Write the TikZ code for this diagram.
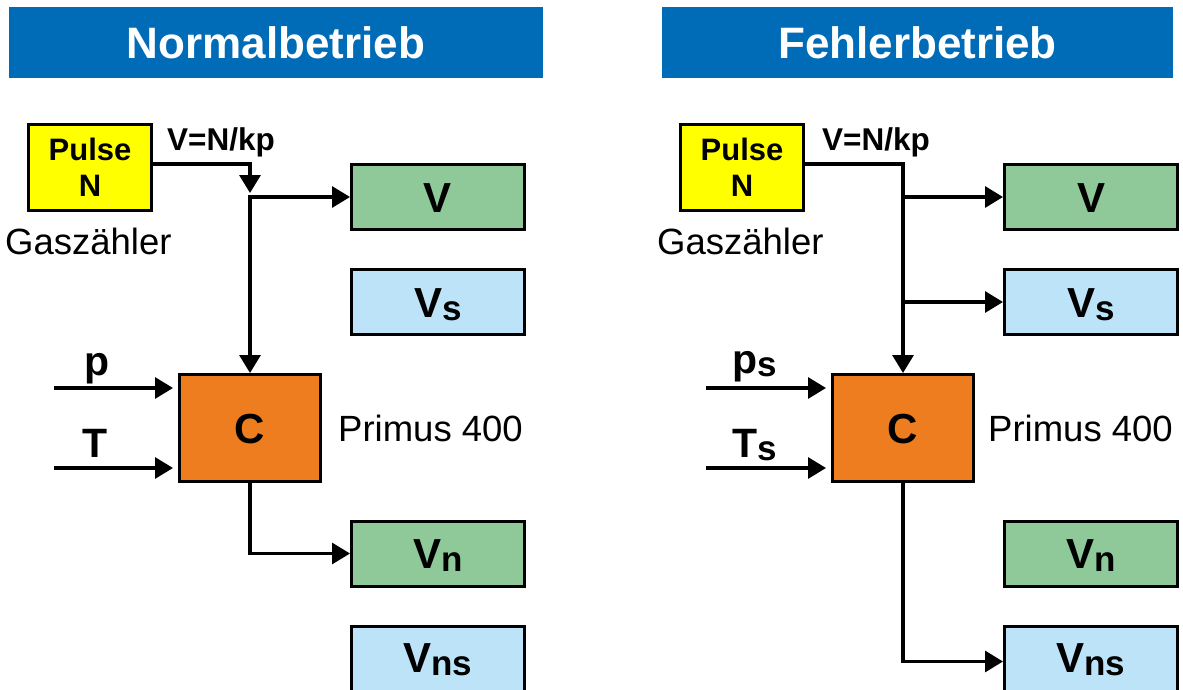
\documentclass[tikz,border=0pt]{standalone}
\usepackage{fontspec}
\setmainfont{Liberation Sans}
\usetikzlibrary{calc,positioning,arrows.meta}
\definecolor{hdblue}{RGB}{0,107,182}
\definecolor{pulseyel}{RGB}{255,255,0}
\definecolor{boxgreen}{RGB}{143,201,153}
\definecolor{boxblue}{RGB}{189,227,248}
\definecolor{boxorange}{RGB}{237,125,30}
\tikzset{
  headbar/.style={fill=hdblue,text=white,inner sep=0pt,minimum height=71pt,font=\fontsize{44}{52}\selectfont\bfseries},
  blk/.style={draw=black,line width=3pt,inner sep=0pt,text height=30pt,text depth=0pt,font=\fontsize{42}{50}\selectfont\bfseries},
  valbox/.style={blk,minimum width=173pt,minimum height=65pt},
  pulsebox/.style={draw=black,line width=3pt,fill=pulseyel,inner sep=0pt,minimum width=123pt,minimum height=86pt,align=center,font=\fontsize{31}{36}\selectfont\bfseries},
  calcbox/.style={blk,fill=boxorange,minimum width=141pt,minimum height=107pt},
  sig/.style={line width=3.2pt,-{Triangle[length=18pt,width=21pt]}},
  sigboth/.style={line width=3.2pt,{Triangle[length=18pt,width=21pt]}-{Triangle[length=18pt,width=21pt]}},
  inlab/.style={anchor=base west,inner sep=0pt,font=\fontsize{41}{48}\selectfont\bfseries},
  kplab/.style={anchor=base west,inner sep=0pt,font=\fontsize{31.5}{36}\selectfont\bfseries},
  devlab/.style={anchor=base west,inner sep=0pt,font=\fontsize{36.5}{42}\selectfont},
}
\newcommand{\vsub}[1]{\raisebox{-3pt}{\fontsize{35}{40}\selectfont#1}}

\begin{document}
\begin{tikzpicture}[x=1pt,y=-1pt]
  \useasboundingbox (0,0) rectangle (1183,690);
  \clip (0,0) rectangle (1183,690);
  % Normalbetrieb
  \node[headbar,minimum width=534pt] (titleL) at (276,42.5) {Normalbetrieb};
  \node[pulsebox] (pulseL) at (90,167.5) {Pulse\\N};
  \node[devlab] (gasL) at (5,254) {Gaszähler};
  \node[kplab] (kpL) at (167,150) {V=N/kp};
  \node[valbox,fill=boxgreen] (vL) at (438,197) {V};
  \node[valbox,fill=boxblue] (vsL) at (438,302) {V\vsub{s}};
  \node[calcbox] (cL) at (250,428) {C};
  \node[devlab] (primL) at (338,441) {Primus 400};
  \node[valbox,fill=boxgreen] (vnL) at (438,553.5) {V\vsub{n}};
  \node[valbox,fill=boxblue,minimum height=71pt,text depth=9pt] (vnsL) at (438,661.5) {V\vsub{ns}};
  \node[inlab] (pL) at (84,375) {p};
  \node[inlab] (tL) at (82,457) {T};
  \coordinate (inpL) at (54,388);
  \coordinate (intL) at (54,468);
  \coordinate (jL) at (vL.west -| cL.north);
  \draw[sig] ([yshift=3.5pt]pulseL.east) -| ([yshift=4pt]jL);
  \draw[sigboth] (vL.west) -| (cL.north);
  \draw[sig] (cL.south) |- (vnL.west);
  \draw[sig,shorten >=5pt] (inpL) -- (inpL -| cL.west);
  \draw[sig,shorten >=5pt] (intL) -- (intL -| cL.west);
  % Fehlerbetrieb
  \node[headbar,minimum width=511pt] (titleR) at (917.5,42.5) {Fehlerbetrieb};
  \node[pulsebox] (pulseR) at (742,167.5) {Pulse\\N};
  \node[devlab] (gasR) at (657,254) {Gaszähler};
  \node[kplab] (kpR) at (822,150) {V=N/kp};
  \node[valbox,fill=boxgreen] (vR) at (1091,197) {V};
  \node[valbox,fill=boxblue] (vsR) at (1091,302) {V\vsub{s}};
  \node[calcbox] (cR) at (903,428) {C};
  \node[devlab] (primR) at (988,441) {Primus 400};
  \node[valbox,fill=boxgreen] (vnR) at (1091,553.5) {V\vsub{n}};
  \node[valbox,fill=boxblue,minimum height=71pt,text depth=9pt] (vnsR) at (1091,661.5) {V\vsub{ns}};
  \node[inlab] (pR) at (732,373) {p\vsub{s}};
  \node[inlab] (tR) at (732,457) {T\vsub{s}};
  \coordinate (inpR) at (706,388);
  \coordinate (intR) at (706,468);
  \coordinate (jvR) at (vR.west -| cR.north);
  \coordinate (jsR) at (vsR.west -| cR.north);
  \draw[sig] ([yshift=3.5pt]pulseR.east) -| (cR.north);
  \draw[sig] (jvR) -- (vR.west);
  \draw[sig] (jsR) -- (vsR.west);
  \draw[sig] (cR.south) |- (vnsR.west);
  \draw[sig,shorten >=5pt] (inpR) -- (inpR -| cR.west);
  \draw[sig,shorten >=5pt] (intR) -- (intR -| cR.west);
\end{tikzpicture}
\end{document}
